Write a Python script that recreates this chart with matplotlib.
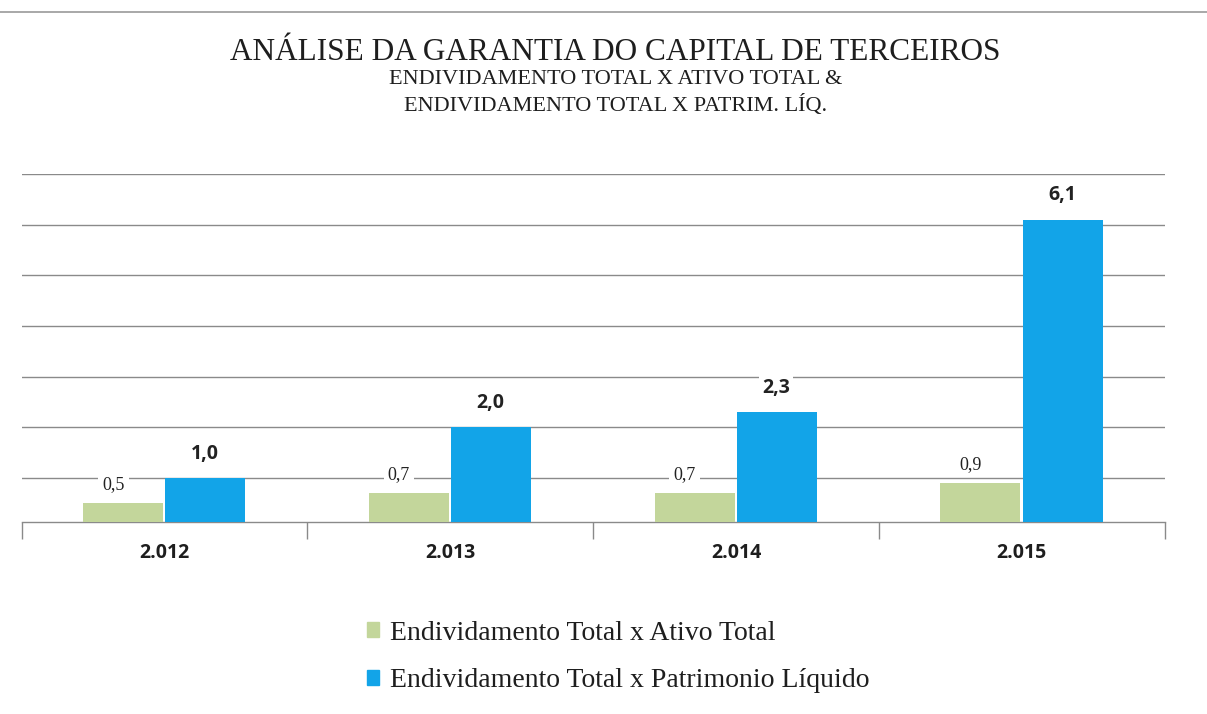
import numpy as np
import matplotlib.pyplot as plt
from matplotlib.patches import Patch
from matplotlib.lines import Line2D

anos = ['2.012', '2.013', '2.014', '2.015']
end_ativo = [0.5, 0.7, 0.7, 0.9]
end_pl = [1.0, 2.0, 2.3, 6.1]
lbl_ativo = ['0,5', '0,7', '0,7', '0,9']
lbl_pl = ['1,0', '2,0', '2,3', '6,1']
serie_nomes = ['Endividamento Total x Ativo Total',
               'Endividamento Total x Patrimonio Líquido']

verde = '#c3d69b'
azul = '#12a4e8'
grade = '#8a8a8a'
serif = ['Liberation Serif', 'DejaVu Serif']
sans = ['Open Sans', 'DejaVu Sans']

fig = plt.figure(figsize=(12.07, 7.14), dpi=100)
ax = fig.add_axes([0.018, 0.269, 0.947, 0.487])

x = np.arange(len(anos))
w = 0.28
ax.bar(x - w / 2 - 0.005, end_ativo, w, color=verde, zorder=3)
ax.bar(x + w / 2 + 0.003, end_pl, w, color=azul, zorder=3)

for xi, v, t in zip(x, end_ativo, lbl_ativo):
    ax.text(xi - w / 2 - 0.04, v + 0.36, t, ha='center', va='center',
            fontsize=13, family=serif, color='#222222', zorder=4,
            bbox=dict(facecolor='white', edgecolor='none', pad=3))
for xi, v, t in zip(x, end_pl, lbl_pl):
    ax.text(xi + w / 2, v + 0.48, t, ha='center', va='center',
            fontsize=14, family=sans, fontweight='bold', color='#222222',
            zorder=4, bbox=dict(facecolor='white', edgecolor='none', pad=2))

ax.set_xlim(-0.5, 3.5)
ax.set_ylim(0.13, 7.0)
ax.set_yticks(range(1, 8))
ax.yaxis.grid(True, color=grade, linewidth=1.0, zorder=0)
ax.tick_params(axis='y', left=False, labelleft=False)
for s in ['top', 'right', 'left']:
    ax.spines[s].set_visible(False)
ax.spines['bottom'].set_color(grade)
ax.spines['bottom'].set_linewidth(1.0)

ax.set_xticks(np.arange(-0.5, 4.0, 1.0), minor=False)
ax.set_xticklabels([])
ax.tick_params(axis='x', direction='out', length=12, color=grade, width=1.0)
for xi, a in zip(x, anos):
    ax.text(xi, -0.06, a, transform=ax.get_xaxis_transform(), ha='center',
            va='top', fontsize=14, family=sans, fontweight='bold',
            color='#1e1e1e')

# linha superior da borda
fig.add_artist(Line2D([0, 1], [0.983, 0.983], color='#9a9a9a', linewidth=1.2))

fig.text(0.510, 0.926, 'ANÁLISE DA GARANTIA DO CAPITAL DE TERCEIROS',
         ha='center', va='center', fontsize=22.5, family=serif, color='#1e1e1e')
fig.text(0.510, 0.888, 'ENDIVIDAMENTO TOTAL X ATIVO TOTAL &',
         ha='center', va='center', fontsize=16, family=serif, color='#1e1e1e')
fig.text(0.510, 0.852, 'ENDIVIDAMENTO TOTAL X PATRIM. LÍQ.',
         ha='center', va='center', fontsize=16, family=serif, color='#1e1e1e')

handles = [Patch(color=verde), Patch(color=azul)]
fig.legend(handles, serie_nomes, loc='center left',
           bbox_to_anchor=(0.283, 0.080), frameon=False,
           prop={'family': serif, 'size': 20}, handlelength=0.45,
           handleheight=0.45, handletextpad=0.4, labelspacing=0.8,
           labelcolor='#1e1e1e')

fig.savefig('out.png', dpi=100)
